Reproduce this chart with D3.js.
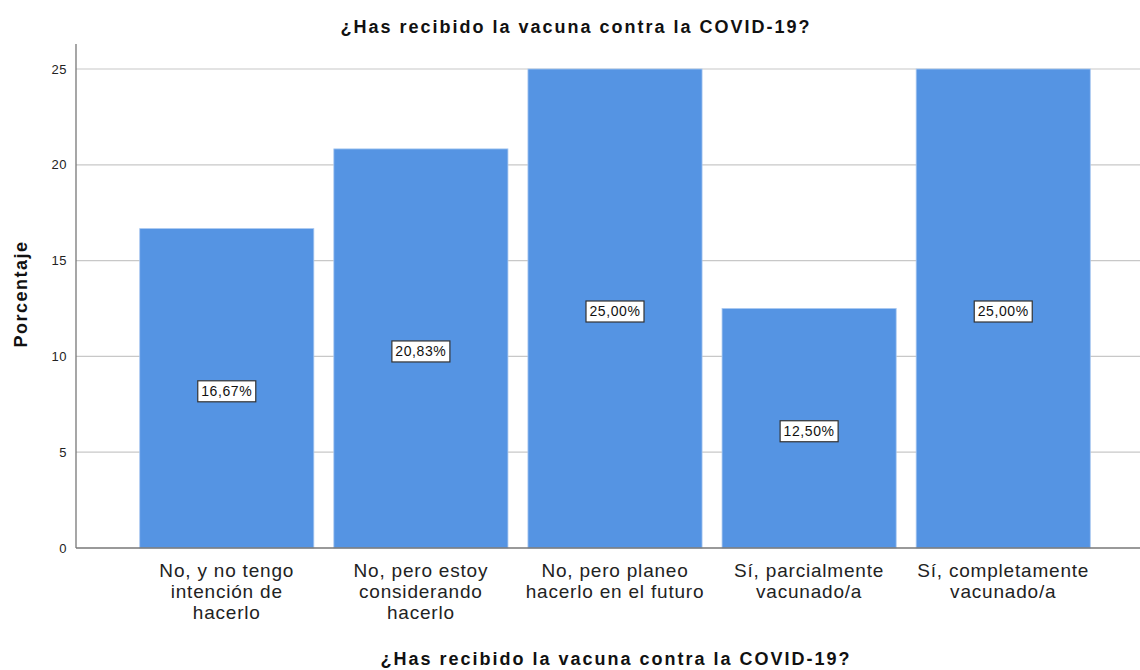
<!DOCTYPE html>
<html>
<head>
<meta charset="utf-8">
<script src="https://cdn.jsdelivr.net/npm/d3@7"></script>
<style>
  body { margin: 0; background: #fff; }
  text { font-family: "Liberation Sans", Arial, sans-serif; }
</style>
</head>
<body>
<div id="chart"></div>
<script>
// Chart data
var categories = [
    ["No, y no tengo", "intención de", "hacerlo"],
    ["No, pero estoy", "considerando", "hacerlo"],
    ["No, pero planeo", "hacerlo en el futuro"],
    ["Sí, parcialmente", "vacunado/a"],
    ["Sí, completamente", "vacunado/a"]
];
var percentages = [16.67, 20.83, 25.00, 12.50, 25.00];
var yTicks = [0, 5, 10, 15, 20, 25];

var svgWidth = 1140;
var svgHeight = 670;

var svg = d3.select("#chart")
    .append("svg")
    .attr("width", svgWidth)
    .attr("height", svgHeight);

// Scales
var xScale = d3.scaleBand()
    .domain(d3.range(categories.length))
    .range([130, 1100])
    .paddingInner(0.103)
    .paddingOuter(0.05);

var yScale = d3.scaleLinear()
    .domain([0, 25])
    .range([548, 69]);

// Gridlines
svg.append("g").selectAll("line")
    .data(yTicks.slice(1))
    .enter()
    .append("line")
    .attr("x1", 76)
    .attr("x2", 1140)
    .attr("y1", d => yScale(d))
    .attr("y2", d => yScale(d))
    .attr("stroke", "#c8c8c8")
    .attr("stroke-width", 1.2);

// Bars
svg.append("g").selectAll("rect")
    .data(percentages)
    .enter()
    .append("rect")
    .attr("x", (d, i) => xScale(i))
    .attr("y", d => yScale(d))
    .attr("width", xScale.bandwidth())
    .attr("height", d => yScale(0) - yScale(d))
    .attr("fill", "#5594e3")
    .attr("stroke", "#a9c8f0")
    .attr("stroke-width", 0.8);

// Y axis
var leftAxis = d3.axisLeft(yScale)
    .tickValues(yTicks)
    .tickSize(0)
    .tickPadding(9);

var yAxis = svg.append("g")
    .attr("transform", "translate(76,0)")
    .call(leftAxis);
yAxis.select(".domain").remove();
yAxis.selectAll("text")
    .attr("font-size", "13px")
    .attr("fill", "#222")
    .style("letter-spacing", "0.5px")
    .style("font-family", "Liberation Sans, Arial, sans-serif");

svg.append("line")
    .attr("x1", 76).attr("x2", 76)
    .attr("y1", 44).attr("y2", 548)
    .attr("stroke", "#777").attr("stroke-width", 1.3);
svg.append("line")
    .attr("x1", 76).attr("x2", 1140)
    .attr("y1", 548).attr("y2", 548)
    .attr("stroke", "#777").attr("stroke-width", 1.3);

// X category labels
var catGroup = svg.append("g").selectAll("text")
    .data(categories)
    .enter()
    .append("text")
    .attr("x", (d, i) => xScale(i) + xScale.bandwidth() / 2)
    .attr("y", 577)
    .attr("text-anchor", "middle")
    .attr("font-size", "19px")
    .style("letter-spacing", "0.8px")
    .attr("fill", "#222");

catGroup.selectAll("tspan")
    .data(d => d)
    .enter()
    .append("tspan")
    .attr("x", function() { return d3.select(this.parentNode).attr("x"); })
    .attr("dy", (d, i) => i === 0 ? 0 : 21)
    .text(d => d);

// Value labels
var labels = svg.append("g").selectAll("g")
    .data(percentages)
    .enter()
    .append("g")
    .attr("transform", (d, i) => `translate(${xScale(i) + xScale.bandwidth() / 2}, ${yScale(d / 2) + 3})`);

labels.append("rect")
    .attr("x", -29)
    .attr("y", -10.5)
    .attr("width", 58)
    .attr("height", 21)
    .attr("fill", "#fff")
    .attr("stroke", "#333")
    .attr("stroke-width", 1.2);

labels.append("text")
    .attr("text-anchor", "middle")
    .attr("dy", "0.35em")
    .attr("font-size", "14px")
    .style("letter-spacing", "0.6px")
    .attr("fill", "#111")
    .text(d => d.toFixed(2).replace(".", ",") + "%");

// Titles
svg.append("text")
    .attr("x", 576)
    .attr("y", 33)
    .attr("text-anchor", "middle")
    .attr("font-size", "18px")
    .attr("font-weight", "bold")
    .style("letter-spacing", "2px")
    .attr("fill", "#111")
    .text("¿Has recibido la vacuna contra la COVID-19?");

svg.append("text")
    .attr("x", 616)
    .attr("y", 665)
    .attr("text-anchor", "middle")
    .attr("font-size", "18px")
    .attr("font-weight", "bold")
    .style("letter-spacing", "2px")
    .attr("fill", "#111")
    .text("¿Has recibido la vacuna contra la COVID-19?");

svg.append("text")
    .attr("transform", "translate(27, 294) rotate(-90)")
    .attr("text-anchor", "middle")
    .attr("font-size", "18px")
    .attr("font-weight", "bold")
    .style("letter-spacing", "1.5px")
    .attr("fill", "#111")
    .text("Porcentaje");
</script>
</body>
</html>
